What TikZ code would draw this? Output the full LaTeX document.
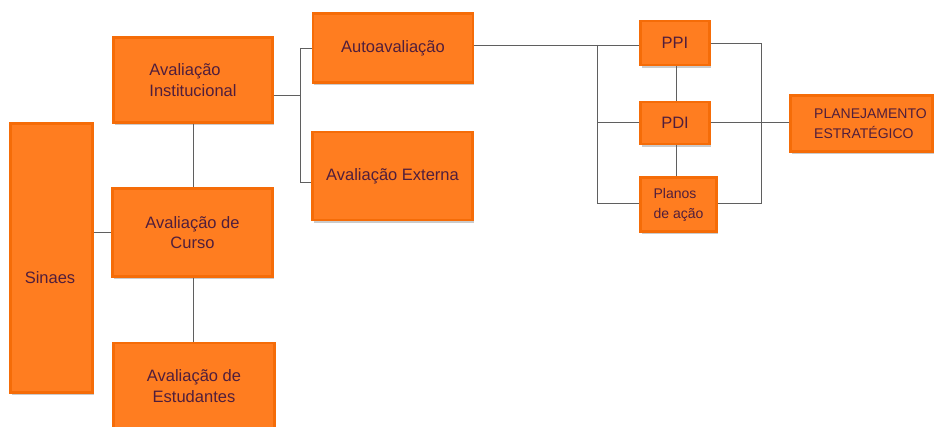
\documentclass[tikz,border=0pt]{standalone}
\usepackage{fontspec}
\setmainfont{Liberation Sans}
\usetikzlibrary{shadows}
\definecolor{boxfill}{RGB}{255,125,32}
\definecolor{boxedge}{RGB}{245,108,8}
\definecolor{boxtext}{RGB}{80,30,60}
\definecolor{linegray}{RGB}{95,95,95}
\tikzset{
  box/.style={rectangle, fill=boxfill, draw=boxedge, line width=2.5pt,
    text=boxtext, font=\fontsize{16.5}{20.5}\selectfont, align=center,
    inner sep=0pt,
    drop shadow={shadow xshift=1pt, shadow yshift=-3pt, opacity=0.5, fill=gray!80}},
  smallbox/.style={box, font=\fontsize{14}{20}\selectfont},
  txt/.style={text=boxtext, font=\fontsize{16.5}{20.5}\selectfont, align=center, inner sep=0pt},
  conn/.style={draw=linegray, line width=0.9pt},
}
\begin{document}
\begin{tikzpicture}[x=1pt, y=-1pt]
\useasboundingbox[fill=white] (0,0) rectangle (935,427);
% boxes
\node[box, minimum width=82pt, minimum height=269pt] (sinaes) at (51.5,258) {};
\node[txt] (sinaesl) at (50,278) {Sinaes};
\node[box, minimum width=159pt, minimum height=85pt, align=left] (inst) at (193,80) {Avaliação\\Institucional};
\node[box, minimum width=160pt, minimum height=69pt] (auto) at (393,48) {Autoavaliação};
\node[box, minimum width=160pt, minimum height=88pt] (ext) at (392.5,176) {Avaliação Externa};
\node[box, minimum width=160pt, minimum height=88pt] (curso) at (192.5,232.5) {Avaliação de\\Curso};
\node[box, minimum width=161pt, minimum height=86pt] (estud) at (194,386) {Avaliação de\\Estudantes};
\node[box, minimum width=69pt, minimum height=44pt] (ppi) at (675,43) {PPI};
\node[box, minimum width=69pt, minimum height=42pt] (pdi) at (675,123) {PDI};
\node[smallbox, minimum width=76pt, minimum height=54pt, align=left] (planos) at (678.5,204.5) {Planos\\de ação};
\node[smallbox, minimum width=142pt, minimum height=56pt, align=left] (plan) at (861.5,123.5) {\hspace*{18pt}PLANEJAMENTO\\\hspace*{18pt}ESTRATÉGICO};
% connector junctions
\coordinate (j1) at (300,95);
\coordinate (j2) at (597,45);
\coordinate (j3) at (761,43);
% connectors
\draw[conn] (inst.east |- j1) -- (j1);
\draw[conn] (300,48) |- (auto.west);
\draw[conn] (300,48) -- (300,182) -- (ext.west |- 0,182);
\draw[conn] (inst.south -| 193,0) -- (curso.north -| 193,0);
\draw[conn] (curso.south -| 193,0) -- (estud.north -| 193,0);
\draw[conn] (sinaes.east |- 0,232) -- (curso.west |- 0,232);
\draw[conn] (auto.east |- j2) -- (ppi.west |- j2);
\draw[conn] (j2) -- (597,203) -- (planos.west |- 0,203);
\draw[conn] (597,122) -- (pdi.west |- 0,122);
\draw[conn] (ppi.east |- j3) -- (j3) -- (761,203) -- (planos.east |- 0,203);
\draw[conn] (pdi.east |- 0,122) -- (plan.west |- 0,122);
\draw[conn] (ppi.south -| 676,0) -- (pdi.north -| 676,0);
\draw[conn] (pdi.south -| 676,0) -- (planos.north -| 676,0);
\end{tikzpicture}
\end{document}
